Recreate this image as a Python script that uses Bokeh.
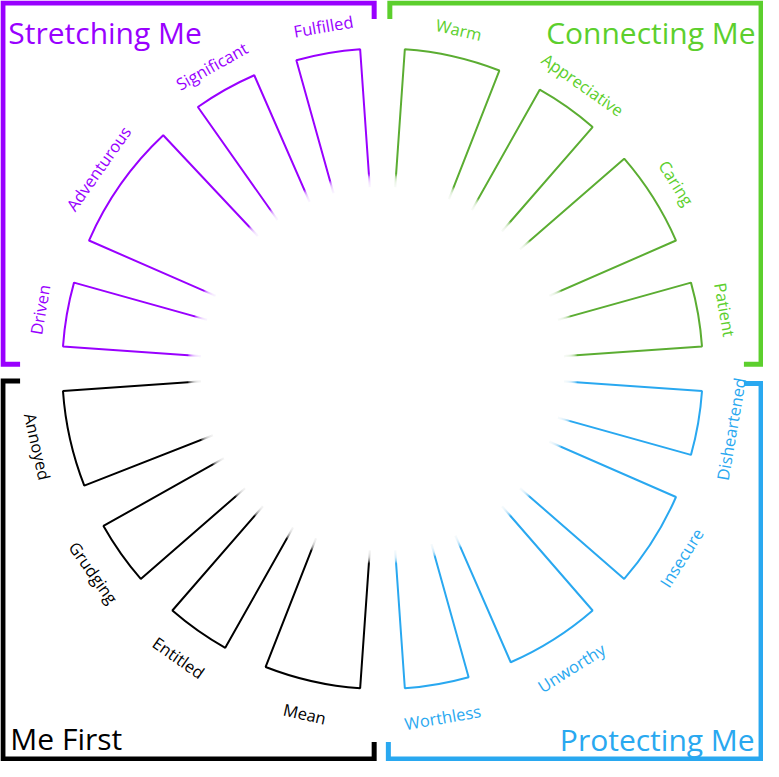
import numpy as np
from bokeh.plotting import figure
from bokeh.models import Range1d, ColumnDataSource
from bokeh.core.properties import value
from bokeh.embed import file_html
from bokeh.resources import INLINE

# === Data (clockwise from 12 o'clock) === #
groups = ["Connecting Me", "Protecting Me", "Me First", "Stretching Me"]

connecting_labels = ["Warm", "Appreciative", "Caring", "Patient"]
connecting_values = [3, 2, 3, 2]
protecting_labels = ["Disheartened", "Insecure", "Unworthy", "Worthless"]
protecting_values = [2, 3, 3, 2]
me_first_labels = ["Mean", "Entitled", "Grudging", "Annoyed"]
me_first_values = [3, 2, 2, 3]
stretching_labels = ["Driven", "Adventurous", "Significant", "Fulfilled"]
stretching_values = [2, 4, 2, 2]

group_labels = [connecting_labels, protecting_labels, me_first_labels, stretching_labels]
group_values = [connecting_values, protecting_values, me_first_values, stretching_values]

TEXT_COLORS = ["#5ccf2d", "#29a8f0", "#000000", "#9900ff"]
LINE_COLORS = ["#5bad32", "#29a8f0", "#000000", "#9900ff"]

# === Geometry (in reference pixels) === #
W, H = 779, 777
CX, CY = 390, H - 376
R_OUT = 327
R_FADE = 186
PAD = 8.0
R_LABEL_TOP, R_LABEL_BOT = 355, 361
FONT = value("Open Sans")

p = figure(width=763, height=761, x_range=Range1d(0, W), y_range=Range1d(0, H),
           toolbar_location=None, output_backend="svg", min_border=0)
p.axis.visible = False
p.grid.visible = False
p.outline_line_color = None
p.background_fill_color = "white"

# === Wedges and labels === #
wedges = dict(start=[], end=[], color=[])
labels = dict(x=[], y=[], text=[], angle=[], color=[])
for gi, (names, vals) in enumerate(zip(group_labels, group_values)):
    span = 90.0 - len(vals) * PAD
    cursor = 90.0 - 90.0 * gi - PAD / 2
    for name, v in zip(names, vals):
        w = v / sum(vals) * span
        end, start = cursor, cursor - w
        cursor = start - PAD
        wedges["start"].append(start)
        wedges["end"].append(end)
        wedges["color"].append(LINE_COLORS[gi])

        mid = (start + end) / 2 % 360
        upper = 0 < mid < 180
        r = R_LABEL_TOP if upper else R_LABEL_BOT
        labels["x"].append(CX + r * np.cos(np.radians(mid)))
        labels["y"].append(CY + r * np.sin(np.radians(mid)))
        labels["text"].append(name)
        labels["angle"].append(np.radians(mid - 90 if upper else mid + 90))
        labels["color"].append(TEXT_COLORS[gi])

p.wedge(x=CX, y=CY, radius=R_OUT, start_angle="start", end_angle="end",
        start_angle_units="deg", end_angle_units="deg", fill_color=None,
        line_color="color", line_width=2, source=ColumnDataSource(wedges))

# soft white hole in the middle so the spokes fade out
for r in np.arange(R_FADE + 13, R_FADE, -1):
    p.circle(x=CX, y=CY, radius=r, fill_color="white", fill_alpha=0.22, line_color=None)
p.circle(x=CX, y=CY, radius=R_FADE, fill_color="white", line_color=None)

p.text(x="x", y="y", text="text", angle="angle", text_color="color",
       text_align="center", text_baseline="middle", text_font=FONT,
       text_font_size="16.5px", source=ColumnDataSource(labels))

# === Corner frames and titles === #
frames = [
    ([397.5, 397.5, 776.5, 776.5, 759], [19, 2.5, 2.5, 371.5, 371.5]),
    ([759, 776.5, 776.5, 396, 396], [391, 391, 774.5, 774.5, 757]),
    ([20, 2.5, 2.5, 381.5, 381.5], [388.5, 388.5, 774.5, 774.5, 757]),
    ([20, 2.5, 2.5, 381.5, 381.5], [371.5, 371.5, 2.5, 2.5, 19]),
]
titles = [(771, 33, "right"), (770, 755, "right"), (10, 754, "left"), (8, 33, "left")]

for gi, name in enumerate(groups):
    fx, fy = frames[gi]
    p.line(x=fx, y=[H - y for y in fy], line_color=TEXT_COLORS[gi], line_width=5,
           line_join="miter", line_cap="butt")
    tx, ty, align = titles[gi]
    p.text(x=[tx], y=[H - ty], text=[name], text_color=TEXT_COLORS[gi],
           text_align=align, text_baseline="alphabetic", text_font=FONT,
           text_font_size="30px")

open("out.html", "w").write(file_html(p, INLINE))
